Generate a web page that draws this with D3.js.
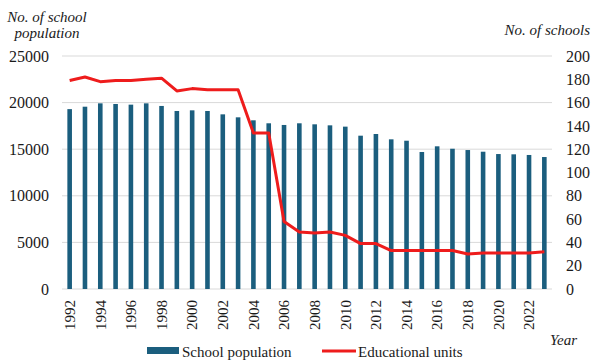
<!DOCTYPE html>
<html>
<head>
<meta charset="utf-8">
<script src="https://cdn.jsdelivr.net/npm/d3@7"></script>
<style>
  body { margin: 0; background: #fff; }
</style>
</head>
<body>
<svg width="592" height="360"></svg>
<script>
// data
var years = d3.range(1992, 2024);
var schoolPopulation = [19300, 19560, 19920, 19850, 19780, 19920, 19640, 19100, 19170, 19100,
  18740, 18420, 18100, 17780, 17600, 17780, 17670, 17560, 17420, 16450,
  16630, 16060, 15910, 14700, 15310, 15050, 14910, 14730, 14480, 14450, 14380, 14160];
var educationalUnits = [179, 182, 178, 179, 179, 180, 181, 170, 172, 171,
  171, 171, 134, 134, 58, 49, 48, 49, 46, 39,
  39, 33, 33, 33, 33, 33, 30, 31, 31, 31, 31, 32];
var leftTicks = [0, 5000, 10000, 15000, 20000, 25000];
var rightTicks = [0, 20, 40, 60, 80, 100, 120, 140, 160, 180, 200];
var xTickYears = years.filter(function(d){ return d % 2 == 0; });

var FONT = 'Liberation Serif';
var svg = d3.select('svg');
var plotLeft = 62, plotRight = 552, plotTop = 56, plotBottom = 289;

var x = d3.scaleBand().domain(years).range([plotLeft, plotRight]).paddingInner(0.7).paddingOuter(0.35);
var yL = d3.scaleLinear().domain([0, 25000]).range([plotBottom, plotTop]);
var yR = d3.scaleLinear().domain([0, 200]).range([plotBottom, plotTop]);

function label(sel, size, italic){
  return sel.attr('font-family', FONT).attr('font-size', size)
    .attr('font-style', italic ? 'italic' : 'normal').attr('fill', '#1a1a1a');
}

// gridlines
svg.append('g').selectAll('line').data(leftTicks).enter().append('line')
  .attr('x1', plotLeft).attr('x2', plotRight)
  .attr('y1', function(d){ return yL(d); }).attr('y2', function(d){ return yL(d); })
  .style('stroke', '#d9d9d9').style('stroke-width', 1);

// left axis labels
label(svg.append('g').selectAll('text').data(leftTicks).enter().append('text'), 16)
  .attr('x', 49).attr('y', function(d){ return yL(d); })
  .attr('dy', '0.35em').attr('text-anchor', 'end')
  .text(function(d){ return d; });

// right axis labels
label(svg.append('g').selectAll('text').data(rightTicks).enter().append('text'), 16)
  .attr('x', 566).attr('y', function(d){ return yR(d); })
  .attr('dy', '0.35em').attr('text-anchor', 'start')
  .text(function(d){ return d; });

// bars
svg.append('g').selectAll('rect').data(years).enter().append('rect')
  .attr('x', function(d){ return x(d); })
  .attr('width', x.bandwidth())
  .attr('y', function(d, i){ return yL(schoolPopulation[i]); })
  .attr('height', function(d, i){ return plotBottom - yL(schoolPopulation[i]); })
  .style('fill', '#1b5e7e');

// line
var line = d3.line()
  .x(function(d, i){ return x(years[i]) + x.bandwidth() / 2; })
  .y(function(d){ return yR(d); });
svg.append('path').datum(educationalUnits)
  .attr('d', line)
  .style('fill', 'none').style('stroke', '#ee1c1c').style('stroke-width', 3)
  .style('stroke-linejoin', 'round');

// x tick labels
label(svg.append('g').selectAll('text').data(xTickYears).enter().append('text'), 15)
  .attr('transform', function(d){ return 'translate(' + (x(d) + x.bandwidth() / 2) + ',' + 300 + ') rotate(-90)'; })
  .attr('text-anchor', 'end').attr('dy', '0.35em')
  .text(function(d){ return d; });

// axis titles
label(svg.append('text'), 15, true).attr('x', 47).attr('y', 22).attr('text-anchor', 'middle').text('No. of school');
label(svg.append('text'), 15, true).attr('x', 47).attr('y', 38).attr('text-anchor', 'middle').text('population');
label(svg.append('text'), 15, true).attr('x', 590).attr('y', 35).attr('text-anchor', 'end').text('No. of schools');
label(svg.append('text'), 15, true).attr('x', 577).attr('y', 345).attr('text-anchor', 'end').text('Year');

// legend
var lg = svg.append('g');
lg.append('rect').attr('x', 147).attr('y', 347).attr('width', 32).attr('height', 7).style('fill', '#1b5e7e');
label(lg.append('text'), 15).attr('x', 182).attr('y', 357).text('School population');
lg.append('line').attr('x1', 322).attr('x2', 356).attr('y1', 351).attr('y2', 351)
  .style('stroke', '#ee1c1c').style('stroke-width', 3);
label(lg.append('text'), 15).attr('x', 358).attr('y', 357).text('Educational units');
</script>
</body>
</html>
